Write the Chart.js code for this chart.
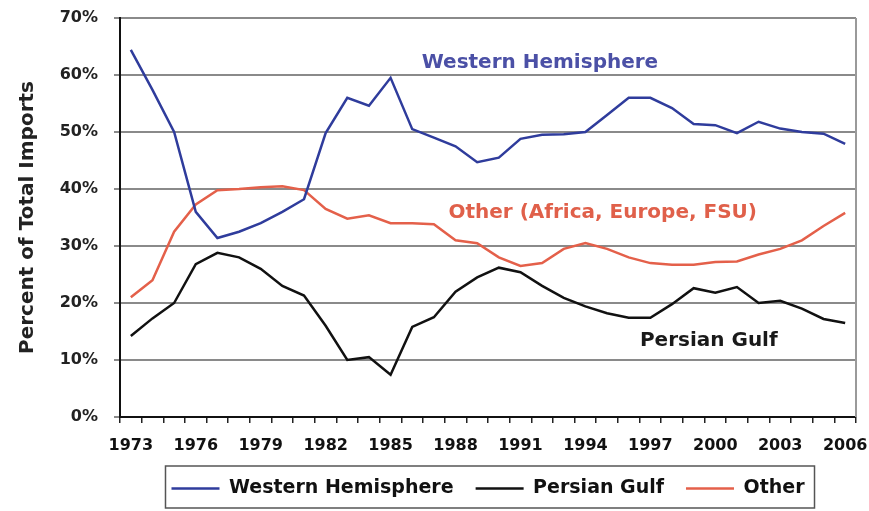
<!DOCTYPE html>
<html>
<head>
<meta charset="utf-8">
<script src="https://cdn.jsdelivr.net/npm/chart.js@4.4.1/dist/chart.umd.min.js"></script>
<style>
  html, body { margin: 0; padding: 0; background: #fff; }
  #wrap { width: 869px; height: 511px; }
</style>
</head>
<body>
<div id="wrap"><canvas id="importsChart" width="869" height="511"></canvas></div>
<script>
const years = ["1973", "1974", "1975", "1976", "1977", "1978", "1979", "1980", "1981", "1982",
  "1983", "1984", "1985", "1986", "1987", "1988", "1989", "1990", "1991", "1992",
  "1993", "1994", "1995", "1996", "1997", "1998", "1999", "2000", "2001", "2002",
  "2003", "2004", "2005", "2006"];

const westernHemisphere = [64.4, 57.4, 50, 36, 31.4, 32.5, 34, 36, 38.2, 49.8,
  56, 54.6, 59.5, 50.5, 49, 47.5, 44.7, 45.5, 48.8, 49.5,
  49.6, 50, 53, 56, 56, 54.2, 51.4, 51.2, 49.8, 51.8,
  50.6, 50, 49.7, 47.9];

const persianGulf = [14.2, 17.3, 20, 26.8, 28.8, 28, 26, 23, 21.3, 16,
  10, 10.5, 7.4, 15.8, 17.5, 22, 24.5, 26.2, 25.4, 23,
  20.9, 19.4, 18.2, 17.4, 17.4, 19.8, 22.6, 21.8, 22.8, 20,
  20.4, 19, 17.2, 16.5];

const other = [21, 24, 32.5, 37.3, 39.8, 40, 40.3, 40.5, 39.8, 36.5,
  34.8, 35.4, 34, 34, 33.8, 31, 30.5, 28, 26.5, 27,
  29.5, 30.5, 29.5, 28, 27, 26.7, 26.7, 27.2, 27.3, 28.5,
  29.5, 31, 33.5, 35.8];

// in-plot labels, placed in data coordinates (category index, percent)
const notes = [
  { text: "Western Hemisphere", color: "#4b50a6", at: 18.9, value: 62.1 },
  { text: "Other (Africa, Europe, FSU)", color: "#e0604a", at: 21.8, value: 35.8 },
  { text: "Persian Gulf", color: "#1a1a1a", at: 26.7, value: 13.3 }
];

const FONT = "'DejaVu Sans', Verdana, sans-serif";

const plotExtras = {
  id: "plotExtras",
  beforeLayout(chart) {
    const lg = chart.legend;
    if (lg && !lg._fixed) {
      const fit = lg.fit.bind(lg);
      lg.fit = function () { fit(); this.height = 54; };
      lg._fixed = true;
    }
  },
  afterDatasetsDraw(chart) {
    const { ctx, chartArea, scales } = chart;
    ctx.save();
    // right frame line
    ctx.strokeStyle = "#9a9a9a";
    ctx.lineWidth = 2;
    ctx.beginPath();
    ctx.moveTo(chartArea.right, chartArea.top);
    ctx.lineTo(chartArea.right, chartArea.bottom);
    ctx.stroke();
    // series labels
    ctx.font = "bold 20px " + FONT;
    ctx.textAlign = "center";
    ctx.textBaseline = "middle";
    notes.forEach(n => {
      ctx.fillStyle = n.color;
      ctx.fillText(n.text, scales.x.getPixelForValue(n.at), scales.y.getPixelForValue(n.value));
    });
    ctx.restore();
  },
  afterDraw(chart) {
    const boxes = chart.legend && chart.legend.legendHitBoxes;
    if (!boxes || !boxes.length) return;
    const left = Math.min(...boxes.map(b => b.left)) - 6;
    const right = Math.max(...boxes.map(b => b.left + b.width)) + 10;
    const top = Math.min(...boxes.map(b => b.top)) - 13;
    const bottom = Math.max(...boxes.map(b => b.top + b.height)) + 10;
    const ctx = chart.ctx;
    ctx.save();
    ctx.strokeStyle = "#555";
    ctx.lineWidth = 1.5;
    ctx.strokeRect(left, top, right - left, bottom - top);
    ctx.restore();
  }
};

new Chart(document.getElementById("importsChart"), {
  type: "line",
  data: {
    labels: years,
    datasets: [
      { label: "Western Hemisphere", data: westernHemisphere, borderColor: "#2f3c9c", backgroundColor: "#2f3c9c", borderWidth: 2.5 },
      { label: "Persian Gulf", data: persianGulf, borderColor: "#111111", backgroundColor: "#111111", borderWidth: 2.5 },
      { label: "Other", data: other, borderColor: "#e4604a", backgroundColor: "#e4604a", borderWidth: 2.5 }
    ]
  },
  options: {
    responsive: false,
    animation: false,
    layout: { padding: { left: 0, right: 13, top: 18, bottom: 0 } },
    elements: {
      line: { tension: 0 },
      point: { radius: 0 }
    },
    plugins: {
      tooltip: { enabled: false },
      legend: {
        position: "bottom",
        fullSize: false,
        labels: {
          usePointStyle: true,
          pointStyle: "line",
          pointStyleWidth: 48,
          padding: 22,
          color: "#111",
          font: { family: FONT, size: 19, weight: "bold" }
        }
      }
    },
    scales: {
      x: {
        type: "category",
        offset: true,
        afterFit(scale) {
          scale.height = 40;
          scale.paddingLeft = 0;
          scale.paddingRight = 0;
        },
        grid: { offset: true, drawOnChartArea: false, drawTicks: true, tickLength: 6, color: "#222", lineWidth: 1.5 },
        border: { display: true, color: "#111", width: 2 },
        ticks: {
          autoSkip: false,
          maxRotation: 0,
          padding: 13,
          color: "#111",
          font: { family: FONT, size: 16, weight: "bold" },
          callback: (value, index) => (index % 3 === 0 ? years[index] : "")
        }
      },
      y: {
        min: 0,
        max: 70,
        afterFit(scale) {
          scale.width = 120;
          scale.paddingTop = 0;
          scale.paddingBottom = 0;
        },
        grid: { color: "#8a8a8a", lineWidth: 2, tickLength: 6 },
        border: { display: true, color: "#111", width: 2 },
        ticks: {
          stepSize: 10,
          padding: 16,
          color: "#222",
          font: { family: FONT, size: 16, weight: "bold" },
          callback: v => v + "%"
        },
        title: {
          display: true,
          text: "Percent of Total Imports",
          color: "#222",
          padding: { top: 16, bottom: 0 },
          font: { family: FONT, size: 20, weight: "bold" }
        }
      }
    }
  },
  plugins: [plotExtras]
});
</script>
</body>
</html>
